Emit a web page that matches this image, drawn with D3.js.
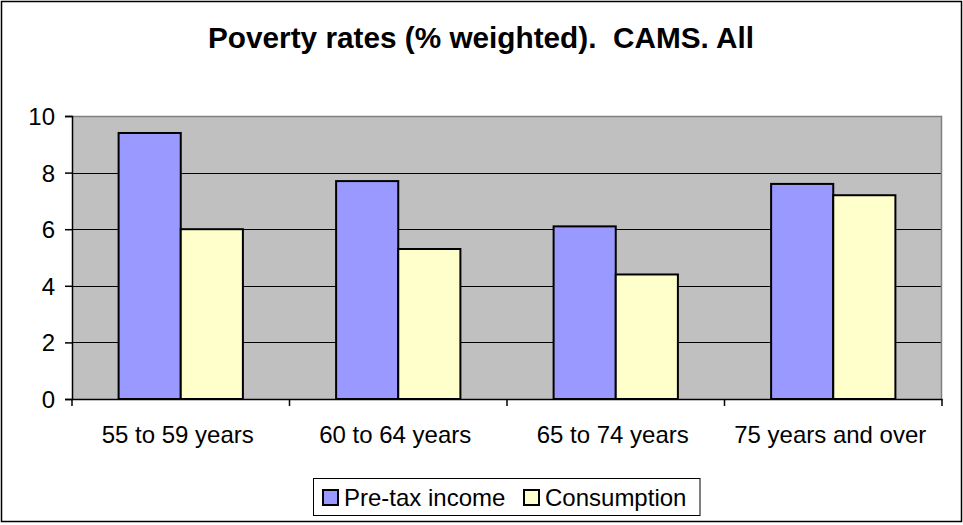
<!DOCTYPE html>
<html><head><meta charset="utf-8">
<script src="https://cdn.jsdelivr.net/npm/d3@7"></script>
<style>
html,body{margin:0;padding:0;background:#fff;}
svg{display:block;font-family:"Liberation Sans",Arial,sans-serif;}
</style></head>
<body>
<script>
const title = "Poverty rates (% weighted).  CAMS. All";
const categories = ["55 to 59 years", "60 to 64 years", "65 to 74 years", "75 years and over"];
const seriesNames = ["Pre-tax income", "Consumption"];
const preTaxIncome = [9.4, 7.7, 6.1, 7.6];
const consumption = [6.0, 5.3, 4.4, 7.2];
const yTicks = [0, 2, 4, 6, 8, 10];
const colors = ["#9999ff", "#ffffcc"];

const W = 963, H = 525;
const plot = {left: 72, right: 942, top: 116, bottom: 399};

const svg = d3.select("body").append("svg").attr("width", W).attr("height", H);

// outer frame
svg.append("rect").attr("x", 1.5).attr("y", 1.5).attr("width", 960).attr("height", 520)
  .attr("fill", "#fff").attr("stroke", "#000").attr("stroke-width", 1.5);

// title
svg.append("text").attr("x", 481).attr("y", 48).attr("text-anchor", "middle")
  .style("white-space", "pre")
  .attr("font-size", 29).attr("font-weight", "bold")
  .attr("textLength", 546).attr("lengthAdjust", "spacingAndGlyphs")
  .text(title);

const x0 = d3.scaleBand().domain(categories).range([plot.left, plot.right]).paddingInner(0).paddingOuter(0);
const x1 = d3.scaleBand().domain(seriesNames).range([0, x0.bandwidth()]).paddingInner(0).paddingOuter(0.75);
const y = d3.scaleLinear().domain([0, 10]).range([plot.bottom, plot.top]);

// plot background
svg.append("rect").attr("x", plot.left).attr("y", plot.top)
  .attr("width", plot.right - plot.left).attr("height", plot.bottom - plot.top)
  .attr("fill", "#c0c0c0");

// gridlines
svg.append("g").selectAll("line").data(yTicks.filter(d => d > 0 && d < 10)).join("line")
  .attr("x1", plot.left).attr("x2", plot.right)
  .attr("y1", d => Math.round(y(d)) + 0.5).attr("y2", d => Math.round(y(d)) + 0.5)
  .attr("stroke", "#000").attr("stroke-width", 1);

// top and right border (gray)
svg.append("path")
  .attr("d", `M${plot.left},${plot.top + 0.5}H${plot.right - 0.5}V${plot.bottom}`)
  .attr("fill", "none").attr("stroke", "#808080").attr("stroke-width", 1.5);

// bars
const data = categories.map((c, i) => ({c, vals: [preTaxIncome[i], consumption[i]]}));
const groups = svg.append("g").selectAll("g").data(data).join("g")
  .attr("transform", d => `translate(${x0(d.c)},0)`);
groups.selectAll("rect").data(d => d.vals.map((v, j) => ({v, s: seriesNames[j], j}))).join("rect")
  .attr("x", d => x1(d.s)).attr("width", x1.bandwidth())
  .attr("y", d => y(d.v)).attr("height", d => y(0) - y(d.v))
  .attr("fill", d => colors[d.j]).attr("stroke", "#000").attr("stroke-width", 2);

// y axis
const yAxis = d3.axisLeft(y).tickValues(yTicks).tickSize(7).tickPadding(0).tickFormat(d3.format("d"));
const gy = svg.append("g").attr("transform", `translate(${plot.left},0)`).call(yAxis);
gy.select(".domain").attr("stroke", "#000").attr("stroke-width", 1.5);
gy.selectAll(".tick line").attr("stroke", "#000").attr("stroke-width", 1.5);
gy.selectAll(".tick text")
  .attr("x", -17).attr("dy", null).attr("y", 8.5).attr("text-anchor", "end")
  .attr("font-size", 24).attr("fill", "#000").attr("font-family", null);

// x axis
const xAxis = d3.axisBottom(x0).tickSize(0).tickPadding(0);
const gx = svg.append("g").attr("transform", `translate(0,${plot.bottom})`).call(xAxis);
gx.select(".domain").attr("stroke", "#000").attr("stroke-width", 1.5);
gx.selectAll(".tick text").attr("y", 44).attr("dy", null).attr("font-size", 24)
  .attr("fill", "#000").attr("font-family", null).attr("dx", -3);
// category boundary ticks
const bounds = categories.map(c => x0(c)).concat([plot.right]);
gx.append("g").selectAll("line").data(bounds).join("line")
  .attr("x1", d => d).attr("x2", d => d).attr("y1", 0).attr("y2", 7)
  .attr("stroke", "#000").attr("stroke-width", 1.5);

// legend
const lg = svg.append("g");
lg.append("rect").attr("x", 313.5).attr("y", 478.5).attr("width", 386.5).attr("height", 37)
  .attr("fill", "#fff").attr("stroke", "#000").attr("stroke-width", 1);
const legendX = [322, 523];
seriesNames.forEach((s, i) => {
  lg.append("rect").attr("x", legendX[i] + 1).attr("y", 490).attr("width", 15).attr("height", 15)
    .attr("fill", colors[i]).attr("stroke", "#000").attr("stroke-width", 2);
  lg.append("text").attr("x", legendX[i] + 22).attr("y", 506).attr("font-size", 24)
    .attr("fill", "#000").text(s);
});
</script>
</body></html>
